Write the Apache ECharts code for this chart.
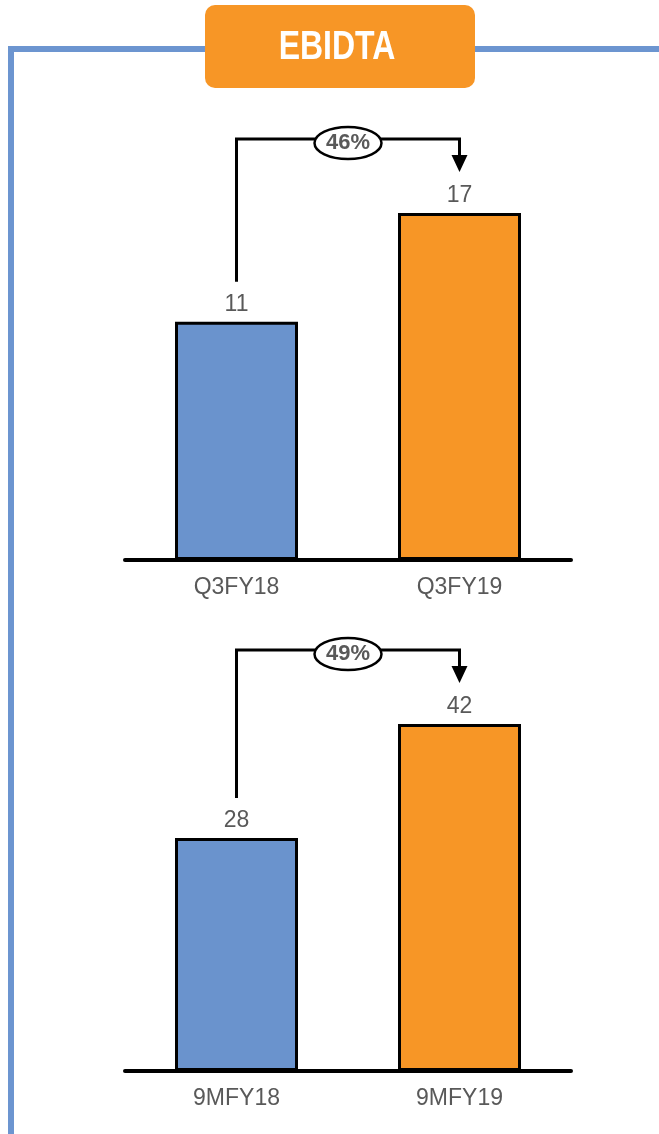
<!DOCTYPE html>
<html>
<head>
<meta charset="utf-8">
<style>
  html, body { margin: 0; padding: 0; background: #ffffff; }
  #chart { width: 659px; height: 1134px; }
</style>
<script src="https://cdn.jsdelivr.net/npm/echarts@6/dist/echarts.min.js"></script>
</head>
<body>
<div id="chart"></div>
<script>
const titleText = 'EBIDTA';
const categoriesQ = ['Q3FY18', 'Q3FY19'];
const valuesQ = [11.4, 16.6];
const growthQ = '46%';
const categoriesM = ['9MFY18', '9MFY19'];
const valuesM = [28.2, 42.0];
const growthM = '49%';

const BLUE = '#6A93CD';
const ORANGE = '#F79626';
const GRAY = '#595959';
const barColors = [BLUE, ORANGE];

const chart = echarts.init(document.getElementById('chart'), null, { renderer: 'canvas' });

function xAxisFor(cats, gi) {
  return {
    type: 'category', gridIndex: gi, data: cats,
    axisLine: { show: true, lineStyle: { color: '#000', width: 4 } },
    axisTick: { show: false },
    axisLabel: { color: GRAY, fontSize: 23, fontFamily: 'Liberation Sans, Arial, sans-serif', margin: 16 }
  };
}
function yAxisFor(gi) {
  return { type: 'value', gridIndex: gi, min: 0, max: 'dataMax', show: false, splitLine: { show: false } };
}
function barSeries(vals, gi) {
  return {
    type: 'bar', xAxisIndex: gi, yAxisIndex: gi, barWidth: 123,
    data: vals.map((v, i) => ({ value: v, itemStyle: { color: barColors[i] } })),
    itemStyle: { borderColor: '#000', borderWidth: 3 },
    label: {
      show: true, position: 'top', distance: 6, color: GRAY, fontSize: 23,
      fontFamily: 'Liberation Sans, Arial, sans-serif',
      formatter: p => String(Math.round(p.value))
    },
    silent: true
  };
}

chart.setOption({
  animation: false,
  grid: [
    { left: 125, width: 446, top: 213, height: 347 },
    { left: 125, width: 446, top: 724, height: 347 }
  ],
  xAxis: [xAxisFor(categoriesQ, 0), xAxisFor(categoriesM, 1)],
  yAxis: [yAxisFor(0), yAxisFor(1)],
  series: [barSeries(valuesQ, 0), barSeries(valuesM, 1)]
});

function connector(seriesIndex, vals, text) {
  const p1 = chart.convertToPixel({ seriesIndex: seriesIndex }, [0, vals[0]]);
  const p2 = chart.convertToPixel({ seriesIndex: seriesIndex }, [1, vals[1]]);
  const x1 = p1[0], x2 = p2[0];
  const yStart = p1[1] - 40;
  const yH = p2[1] - 74;
  const tip = p2[1] - 41;
  const mid = (x1 + x2) / 2;
  return [
    { type: 'polyline', shape: { points: [[x1, yStart], [x1, yH], [x2, yH], [x2, tip - 14]] },
      style: { stroke: '#000', lineWidth: 3, fill: null }, z: 10 },
    { type: 'polygon', shape: { points: [[x2 - 8, tip - 17], [x2 + 8, tip - 17], [x2, tip]] },
      style: { fill: '#000' }, z: 10 },
    { type: 'ellipse', shape: { cx: mid, cy: yH + 4, rx: 33.5, ry: 16 },
      style: { fill: '#fff', stroke: '#000', lineWidth: 2.5 }, z: 11 },
    { type: 'text', x: mid, y: yH + 4, z: 12,
      style: { text: text, fill: GRAY, font: 'bold 22px "Liberation Sans", Arial, sans-serif',
               align: 'center', verticalAlign: 'middle' } }
  ];
}

const graphics = [
  { type: 'polyline', shape: { points: [[11, 1140], [11, 49], [670, 49]] },
    style: { stroke: '#6C95D0', lineWidth: 6, fill: null }, z: 1 },
  { type: 'rect', shape: { x: 205, y: 5, width: 270, height: 83, r: 10 },
    style: { fill: ORANGE }, z: 2 },
  { type: 'text', x: 337, y: 48, scaleX: 0.8, z: 3,
    style: { text: titleText, fill: '#fff',
             font: 'bold 40px "Liberation Sans", Arial, sans-serif',
             align: 'center', verticalAlign: 'middle' } }
].concat(connector(0, valuesQ, growthQ), connector(1, valuesM, growthM));

chart.setOption({ graphic: graphics });
</script>
</body>
</html>
